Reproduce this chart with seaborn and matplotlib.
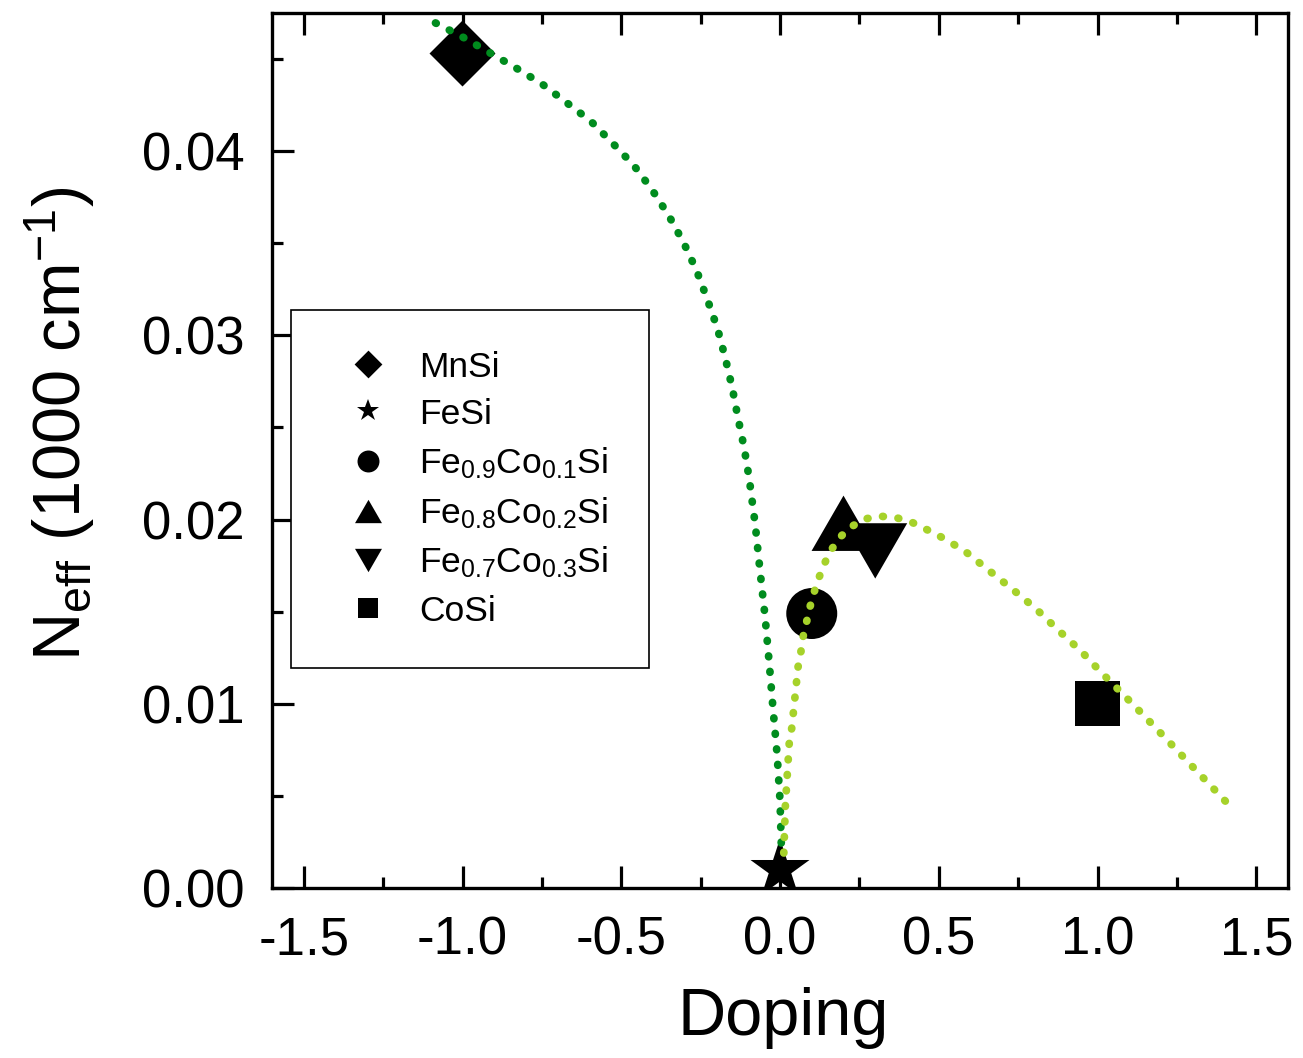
import matplotlib
matplotlib.use("Agg")
import matplotlib.pyplot as plt
from matplotlib.lines import Line2D
from matplotlib.ticker import MultipleLocator, FormatStrFormatter
import pandas as pd
import seaborn as sns

# Measured points
compounds = ["MnSi", "FeSi", "Fe0.9Co0.1Si", "Fe0.8Co0.2Si", "Fe0.7Co0.3Si", "CoSi"]
legend_labels = ["MnSi", "FeSi",
                 r"Fe$_{0.9}$Co$_{0.1}$Si",
                 r"Fe$_{0.8}$Co$_{0.2}$Si",
                 r"Fe$_{0.7}$Co$_{0.3}$Si",
                 "CoSi"]
doping = [-1.0, 0.0, 0.1, 0.2, 0.3, 1.0]
neff = [0.0453, 0.0010, 0.0149, 0.0198, 0.0183, 0.0100]

# Guide-to-the-eye curve, Mn side
guide_mn_x = [-1.085, -1.0, -0.918, -0.831, -0.749, -0.674, -0.596, -0.527,
              -0.461, -0.404, -0.351, -0.304, -0.263, -0.229, -0.197, -0.172,
              -0.150, -0.132, -0.113, -0.097, -0.078, -0.063, -0.047, -0.034,
              -0.022, -0.009, 0.0, 0.005]
guide_mn_y = [0.04696, 0.04620, 0.04538, 0.04451, 0.04364, 0.04266, 0.04163, 0.04043,
              0.03924, 0.03793, 0.03652, 0.03505, 0.03353, 0.03196, 0.03038, 0.02875,
              0.02712, 0.02549, 0.02391, 0.02223, 0.01973, 0.01723, 0.01473, 0.01223,
              0.00973, 0.00723, 0.00478, 0.00180]

# Guide-to-the-eye curve, Co side
guide_co_x = [0.012, 0.017, 0.023, 0.029, 0.037, 0.047, 0.057, 0.066, 0.073,
              0.084, 0.094, 0.108, 0.123, 0.141, 0.162, 0.191, 0.227, 0.269,
              0.317, 0.364, 0.411, 0.495, 0.580, 0.655, 0.730, 0.806, 0.875,
              0.947, 1.013, 1.082, 1.150, 1.216, 1.282, 1.348, 1.414]
guide_co_y = [0.00190, 0.00451, 0.00618, 0.00784, 0.00868, 0.01034, 0.01201, 0.01284, 0.01366,
              0.01447, 0.01523, 0.01609, 0.01686, 0.01765, 0.01837, 0.01908, 0.01964, 0.02004,
              0.02018, 0.02011, 0.01989, 0.01918, 0.01832, 0.01728, 0.01625, 0.01516, 0.01402,
              0.01288, 0.01168, 0.01049, 0.00929, 0.00810, 0.00690, 0.00571, 0.00451]

DARK_GREEN = "#008C1E"
LIGHT_GREEN = "#A6D22A"

# Marker shapes (custom polygons keep widths predictable)
DIAMOND = [(0, 1), (1, 0), (0, -1), (-1, 0)]
TRI_UP = [(-1, -0.866), (1, -0.866), (0, 0.866)]
TRI_DOWN = [(-1, 0.866), (1, 0.866), (0, -0.866)]
marker_shapes = [DIAMOND, "*", "o", TRI_UP, TRI_DOWN, "s"]
marker_pt = [47.5, 44.7, 36.7, 46.0, 46.0, 32.4]
legend_marker_pt = [20.0, 16.7, 15.8, 19.4, 19.4, 13.7]

sns.set_style("ticks")
plt.rcParams["font.family"] = ["Liberation Sans", "DejaVu Sans"]
plt.rcParams["mathtext.default"] = "regular"
plt.rcParams["axes.unicode_minus"] = False
for key in ["text.color", "axes.labelcolor", "xtick.color", "ytick.color",
            "xtick.labelcolor", "ytick.labelcolor"]:
    plt.rcParams[key] = "black"

fig = plt.figure(figsize=(13.03, 10.58), dpi=100)
ax = fig.add_axes([272 / 1303, 170 / 1058, 1016 / 1303, 875 / 1058])

points = pd.DataFrame({"compound": compounds, "doping": doping, "neff": neff})
for i, row in points.iterrows():
    sns.scatterplot(x=[row["doping"]], y=[row["neff"]], ax=ax,
                    marker=marker_shapes[i], s=marker_pt[i] ** 2,
                    color="black", edgecolor="none", linewidth=0, zorder=1)

dot_style = (0, (0.1, 1.9))
sns.lineplot(x=guide_mn_x, y=guide_mn_y, ax=ax, sort=False, estimator=None,
             color=DARK_GREEN, lw=5.6, linestyle=dot_style,
             dash_capstyle="round", zorder=3)
sns.lineplot(x=guide_co_x, y=guide_co_y, ax=ax, sort=False, estimator=None,
             color=LIGHT_GREEN, lw=5.6, linestyle=dot_style,
             dash_capstyle="round", zorder=3)

ax.set_xlim(-1.6, 1.6)
ax.set_ylim(0, 0.0475)
ax.xaxis.set_major_locator(MultipleLocator(0.5))
ax.xaxis.set_minor_locator(MultipleLocator(0.25))
ax.yaxis.set_major_locator(MultipleLocator(0.01))
ax.yaxis.set_minor_locator(MultipleLocator(0.005))
ax.xaxis.set_major_formatter(FormatStrFormatter("%.1f"))
ax.yaxis.set_major_formatter(FormatStrFormatter("%.2f"))

for side in ["left", "right", "top", "bottom"]:
    ax.spines[side].set_visible(True)
    ax.spines[side].set_linewidth(2.4)
    ax.spines[side].set_color("black")

ax.tick_params(which="both", direction="in", top=True, right=False,
               width=2.3, color="black", labelcolor="black")
ax.tick_params(which="major", length=15.5, labelsize=38, pad=20)
ax.tick_params(which="minor", length=8)

ax.set_xlabel("Doping", fontsize=48, color="black")
ax.set_ylabel(r"N$_{eff}$ (1000 cm$^{-1}$)", fontsize=48, color="black")
ax.xaxis.set_label_coords(0.503, -0.113)
ax.yaxis.set_label_coords(-0.172, 0.53)

handles = [Line2D([], [], linestyle="None", marker=marker_shapes[i], color="black",
                  markeredgewidth=0, markersize=legend_marker_pt[i])
           for i in range(len(compounds))]
leg = ax.legend(handles, legend_labels, loc="upper left",
                bbox_to_anchor=(291 / 1303, 1 - 310 / 1058),
                bbox_transform=fig.transFigure, borderaxespad=0,
                fontsize=25.5, frameon=True, fancybox=False, framealpha=1,
                edgecolor="black", handlelength=2.05, handletextpad=0.42,
                borderpad=1.15, labelspacing=0.4)
leg.get_frame().set_linewidth(1.2)
for txt in leg.get_texts():
    txt.set_color("black")

fig.savefig("out.png", dpi=100)
